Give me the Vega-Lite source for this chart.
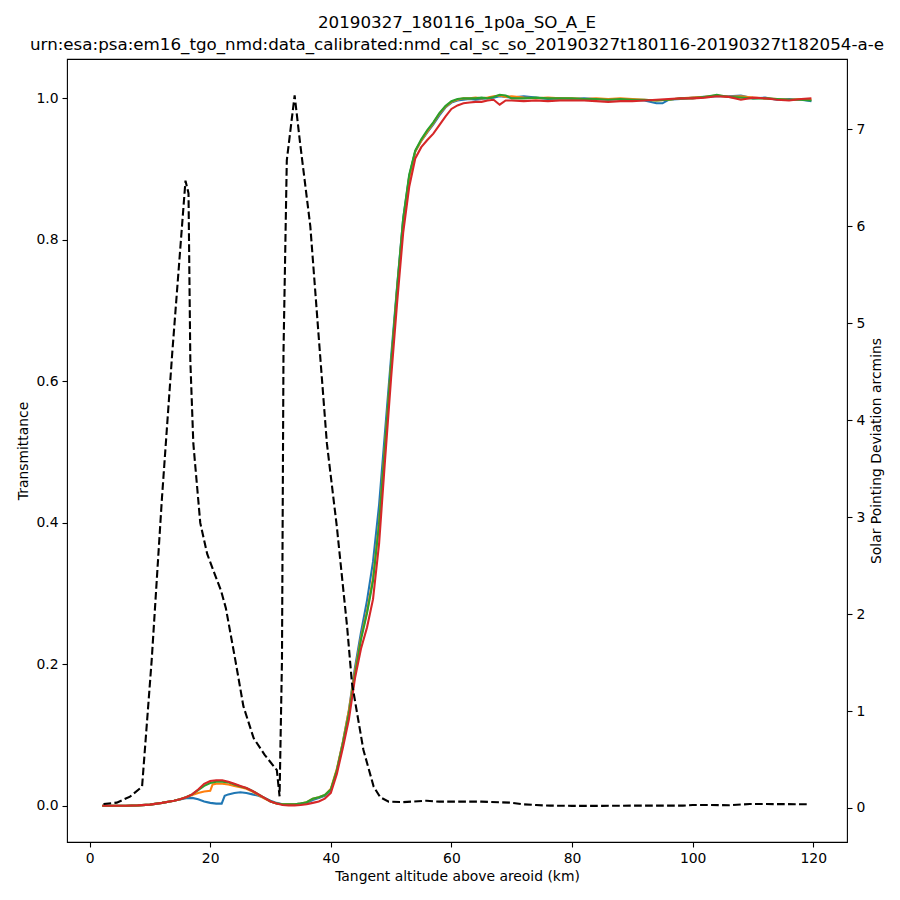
{
  "$schema": "https://vega.github.io/schema/vega-lite/v6.json",
  "autosize": {"type": "none"},
  "padding": {"left": 67, "top": 59, "right": 53, "bottom": 58},
  "width": 780,
  "height": 783,
  "title": {
    "text": ["20190327_180116_1p0a_SO_A_E", "urn:esa:psa:em16_tgo_nmd:data_calibrated:nmd_cal_sc_so_20190327t180116-20190327t182054-a-e"],
    "anchor": "middle",
    "fontSize": 16.7,
    "fontWeight": "normal",
    "lineHeight": 22,
    "offset": 5,
    "color": "black"
  },
  "datasets": {
    "trans": [
      {"alt": 2.1, "bin": 0, "T": 0}, {"alt": 4, "bin": 0, "T": 0}, {"alt": 6, "bin": 0, "T": 0}, {"alt": 8, "bin": 0, "T": 0.0005},
      {"alt": 10, "bin": 0, "T": 0.0015}, {"alt": 12, "bin": 0, "T": 0.004}, {"alt": 14, "bin": 0, "T": 0.007}, {"alt": 15, "bin": 0, "T": 0.009},
      {"alt": 16, "bin": 0, "T": 0.0105}, {"alt": 17, "bin": 0, "T": 0.011}, {"alt": 18, "bin": 0, "T": 0.009}, {"alt": 19, "bin": 0, "T": 0.006},
      {"alt": 20, "bin": 0, "T": 0.004}, {"alt": 21, "bin": 0, "T": 0.003}, {"alt": 21.9, "bin": 0, "T": 0.003}, {"alt": 22.4, "bin": 0, "T": 0.014},
      {"alt": 23, "bin": 0, "T": 0.016}, {"alt": 24, "bin": 0, "T": 0.018}, {"alt": 25, "bin": 0, "T": 0.019}, {"alt": 26, "bin": 0, "T": 0.018},
      {"alt": 27, "bin": 0, "T": 0.016}, {"alt": 28, "bin": 0, "T": 0.014}, {"alt": 29, "bin": 0, "T": 0.011}, {"alt": 30, "bin": 0, "T": 0.007},
      {"alt": 31, "bin": 0, "T": 0.004}, {"alt": 32, "bin": 0, "T": 0.002}, {"alt": 33, "bin": 0, "T": 0.002}, {"alt": 34, "bin": 0, "T": 0.002},
      {"alt": 35, "bin": 0, "T": 0.003}, {"alt": 36, "bin": 0, "T": 0.004}, {"alt": 37, "bin": 0, "T": 0.008}, {"alt": 38, "bin": 0, "T": 0.011},
      {"alt": 39, "bin": 0, "T": 0.014}, {"alt": 40, "bin": 0, "T": 0.022}, {"alt": 41, "bin": 0, "T": 0.05}, {"alt": 42, "bin": 0, "T": 0.09},
      {"alt": 43, "bin": 0, "T": 0.135}, {"alt": 44, "bin": 0, "T": 0.195}, {"alt": 45, "bin": 0, "T": 0.245}, {"alt": 46, "bin": 0, "T": 0.29},
      {"alt": 47, "bin": 0, "T": 0.345}, {"alt": 48, "bin": 0, "T": 0.425}, {"alt": 49, "bin": 0, "T": 0.53}, {"alt": 50, "bin": 0, "T": 0.635},
      {"alt": 51, "bin": 0, "T": 0.735}, {"alt": 52, "bin": 0, "T": 0.83}, {"alt": 53, "bin": 0, "T": 0.89}, {"alt": 54, "bin": 0, "T": 0.925},
      {"alt": 55, "bin": 0, "T": 0.94}, {"alt": 56, "bin": 0, "T": 0.952}, {"alt": 57, "bin": 0, "T": 0.963}, {"alt": 58, "bin": 0, "T": 0.976},
      {"alt": 59, "bin": 0, "T": 0.987}, {"alt": 60, "bin": 0, "T": 0.994}, {"alt": 61, "bin": 0, "T": 0.997}, {"alt": 62, "bin": 0, "T": 0.998},
      {"alt": 63, "bin": 0, "T": 0.999}, {"alt": 64, "bin": 0, "T": 0.998}, {"alt": 65, "bin": 0, "T": 0.999}, {"alt": 66, "bin": 0, "T": 1.0},
      {"alt": 67, "bin": 0, "T": 1.001}, {"alt": 68, "bin": 0, "T": 1.003}, {"alt": 69, "bin": 0, "T": 1.002}, {"alt": 70, "bin": 0, "T": 1.001},
      {"alt": 72, "bin": 0, "T": 1.003}, {"alt": 74, "bin": 0, "T": 1.001}, {"alt": 76, "bin": 0, "T": 0.999}, {"alt": 78, "bin": 0, "T": 1.0},
      {"alt": 80, "bin": 0, "T": 0.999}, {"alt": 82, "bin": 0, "T": 1.0}, {"alt": 84, "bin": 0, "T": 0.999}, {"alt": 86, "bin": 0, "T": 0.998},
      {"alt": 88, "bin": 0, "T": 0.999}, {"alt": 90, "bin": 0, "T": 0.998}, {"alt": 92, "bin": 0, "T": 0.997}, {"alt": 94, "bin": 0, "T": 0.993},
      {"alt": 95, "bin": 0, "T": 0.993}, {"alt": 96, "bin": 0, "T": 0.998}, {"alt": 98, "bin": 0, "T": 0.999}, {"alt": 100, "bin": 0, "T": 1.001},
      {"alt": 102, "bin": 0, "T": 1.002}, {"alt": 104, "bin": 0, "T": 1.003}, {"alt": 106, "bin": 0, "T": 1.003}, {"alt": 108, "bin": 0, "T": 1.004},
      {"alt": 110, "bin": 0, "T": 1.0}, {"alt": 112, "bin": 0, "T": 1.001}, {"alt": 114, "bin": 0, "T": 0.998}, {"alt": 116, "bin": 0, "T": 0.999},
      {"alt": 118, "bin": 0, "T": 0.998}, {"alt": 119.7, "bin": 0, "T": 0.996},

      {"alt": 2.1, "bin": 1, "T": 0}, {"alt": 4, "bin": 1, "T": 0}, {"alt": 6, "bin": 1, "T": 0}, {"alt": 8, "bin": 1, "T": 0.0005},
      {"alt": 10, "bin": 1, "T": 0.0015}, {"alt": 12, "bin": 1, "T": 0.004}, {"alt": 14, "bin": 1, "T": 0.007}, {"alt": 15, "bin": 1, "T": 0.009},
      {"alt": 16, "bin": 1, "T": 0.012}, {"alt": 17, "bin": 1, "T": 0.015}, {"alt": 18, "bin": 1, "T": 0.018}, {"alt": 19, "bin": 1, "T": 0.02},
      {"alt": 20, "bin": 1, "T": 0.021}, {"alt": 20.4, "bin": 1, "T": 0.03}, {"alt": 21, "bin": 1, "T": 0.031}, {"alt": 22, "bin": 1, "T": 0.031},
      {"alt": 23, "bin": 1, "T": 0.03}, {"alt": 24, "bin": 1, "T": 0.028}, {"alt": 25, "bin": 1, "T": 0.026}, {"alt": 26, "bin": 1, "T": 0.024},
      {"alt": 27, "bin": 1, "T": 0.02}, {"alt": 28, "bin": 1, "T": 0.015}, {"alt": 29, "bin": 1, "T": 0.01}, {"alt": 30, "bin": 1, "T": 0.006},
      {"alt": 31, "bin": 1, "T": 0.003}, {"alt": 32, "bin": 1, "T": 0.002}, {"alt": 33, "bin": 1, "T": 0.002}, {"alt": 34, "bin": 1, "T": 0.002},
      {"alt": 35, "bin": 1, "T": 0.003}, {"alt": 36, "bin": 1, "T": 0.005}, {"alt": 37, "bin": 1, "T": 0.01}, {"alt": 38, "bin": 1, "T": 0.012},
      {"alt": 39, "bin": 1, "T": 0.015}, {"alt": 40, "bin": 1, "T": 0.024}, {"alt": 41, "bin": 1, "T": 0.052}, {"alt": 42, "bin": 1, "T": 0.09},
      {"alt": 43, "bin": 1, "T": 0.135}, {"alt": 44, "bin": 1, "T": 0.19}, {"alt": 45, "bin": 1, "T": 0.238}, {"alt": 46, "bin": 1, "T": 0.275},
      {"alt": 47, "bin": 1, "T": 0.322}, {"alt": 48, "bin": 1, "T": 0.4}, {"alt": 49, "bin": 1, "T": 0.512}, {"alt": 50, "bin": 1, "T": 0.625},
      {"alt": 51, "bin": 1, "T": 0.73}, {"alt": 52, "bin": 1, "T": 0.825}, {"alt": 53, "bin": 1, "T": 0.888}, {"alt": 54, "bin": 1, "T": 0.925},
      {"alt": 55, "bin": 1, "T": 0.94}, {"alt": 56, "bin": 1, "T": 0.953}, {"alt": 57, "bin": 1, "T": 0.965}, {"alt": 58, "bin": 1, "T": 0.978},
      {"alt": 59, "bin": 1, "T": 0.988}, {"alt": 60, "bin": 1, "T": 0.995}, {"alt": 61, "bin": 1, "T": 0.998}, {"alt": 62, "bin": 1, "T": 1.0},
      {"alt": 63, "bin": 1, "T": 1.0}, {"alt": 64, "bin": 1, "T": 1.001}, {"alt": 65, "bin": 1, "T": 1.0}, {"alt": 66, "bin": 1, "T": 1.001},
      {"alt": 67, "bin": 1, "T": 1.003}, {"alt": 68, "bin": 1, "T": 1.004}, {"alt": 69, "bin": 1, "T": 1.002}, {"alt": 70, "bin": 1, "T": 1.003},
      {"alt": 72, "bin": 1, "T": 1.001}, {"alt": 74, "bin": 1, "T": 1.0}, {"alt": 76, "bin": 1, "T": 1.001}, {"alt": 78, "bin": 1, "T": 1.0},
      {"alt": 80, "bin": 1, "T": 1.0}, {"alt": 82, "bin": 1, "T": 0.999}, {"alt": 84, "bin": 1, "T": 1.0}, {"alt": 86, "bin": 1, "T": 0.999},
      {"alt": 88, "bin": 1, "T": 1.0}, {"alt": 90, "bin": 1, "T": 0.999}, {"alt": 92, "bin": 1, "T": 0.998}, {"alt": 94, "bin": 1, "T": 0.997},
      {"alt": 96, "bin": 1, "T": 0.998}, {"alt": 98, "bin": 1, "T": 1.0}, {"alt": 100, "bin": 1, "T": 1.001}, {"alt": 102, "bin": 1, "T": 1.002},
      {"alt": 104, "bin": 1, "T": 1.004}, {"alt": 106, "bin": 1, "T": 1.002}, {"alt": 108, "bin": 1, "T": 1.003}, {"alt": 110, "bin": 1, "T": 1.001},
      {"alt": 112, "bin": 1, "T": 1.0}, {"alt": 114, "bin": 1, "T": 0.999}, {"alt": 116, "bin": 1, "T": 0.998}, {"alt": 118, "bin": 1, "T": 0.999},
      {"alt": 119.7, "bin": 1, "T": 0.998},

      {"alt": 2.1, "bin": 2, "T": 0}, {"alt": 4, "bin": 2, "T": 0}, {"alt": 6, "bin": 2, "T": 0}, {"alt": 8, "bin": 2, "T": 0.0005},
      {"alt": 10, "bin": 2, "T": 0.0015}, {"alt": 12, "bin": 2, "T": 0.004}, {"alt": 14, "bin": 2, "T": 0.007}, {"alt": 15, "bin": 2, "T": 0.009},
      {"alt": 16, "bin": 2, "T": 0.012}, {"alt": 17, "bin": 2, "T": 0.016}, {"alt": 18, "bin": 2, "T": 0.022}, {"alt": 19, "bin": 2, "T": 0.028},
      {"alt": 20, "bin": 2, "T": 0.032}, {"alt": 21, "bin": 2, "T": 0.034}, {"alt": 22, "bin": 2, "T": 0.034}, {"alt": 23, "bin": 2, "T": 0.033},
      {"alt": 24, "bin": 2, "T": 0.03}, {"alt": 25, "bin": 2, "T": 0.027}, {"alt": 26, "bin": 2, "T": 0.025}, {"alt": 27, "bin": 2, "T": 0.021},
      {"alt": 28, "bin": 2, "T": 0.016}, {"alt": 29, "bin": 2, "T": 0.011}, {"alt": 30, "bin": 2, "T": 0.006}, {"alt": 31, "bin": 2, "T": 0.003},
      {"alt": 32, "bin": 2, "T": 0.002}, {"alt": 33, "bin": 2, "T": 0.002}, {"alt": 34, "bin": 2, "T": 0.002}, {"alt": 35, "bin": 2, "T": 0.003},
      {"alt": 36, "bin": 2, "T": 0.005}, {"alt": 37, "bin": 2, "T": 0.01}, {"alt": 38, "bin": 2, "T": 0.012}, {"alt": 39, "bin": 2, "T": 0.015},
      {"alt": 40, "bin": 2, "T": 0.023}, {"alt": 41, "bin": 2, "T": 0.05}, {"alt": 42, "bin": 2, "T": 0.088}, {"alt": 43, "bin": 2, "T": 0.13},
      {"alt": 44, "bin": 2, "T": 0.185}, {"alt": 45, "bin": 2, "T": 0.235}, {"alt": 46, "bin": 2, "T": 0.272}, {"alt": 47, "bin": 2, "T": 0.318},
      {"alt": 48, "bin": 2, "T": 0.398}, {"alt": 49, "bin": 2, "T": 0.51}, {"alt": 50, "bin": 2, "T": 0.625}, {"alt": 51, "bin": 2, "T": 0.733},
      {"alt": 52, "bin": 2, "T": 0.83}, {"alt": 53, "bin": 2, "T": 0.892}, {"alt": 54, "bin": 2, "T": 0.926}, {"alt": 55, "bin": 2, "T": 0.942},
      {"alt": 56, "bin": 2, "T": 0.955}, {"alt": 57, "bin": 2, "T": 0.966}, {"alt": 58, "bin": 2, "T": 0.979}, {"alt": 59, "bin": 2, "T": 0.989},
      {"alt": 60, "bin": 2, "T": 0.996}, {"alt": 61, "bin": 2, "T": 0.999}, {"alt": 62, "bin": 2, "T": 1.0}, {"alt": 63, "bin": 2, "T": 1.0},
      {"alt": 64, "bin": 2, "T": 1.0}, {"alt": 65, "bin": 2, "T": 1.001}, {"alt": 66, "bin": 2, "T": 1.0}, {"alt": 67, "bin": 2, "T": 1.002},
      {"alt": 68, "bin": 2, "T": 1.005}, {"alt": 69, "bin": 2, "T": 1.004}, {"alt": 70, "bin": 2, "T": 1.0}, {"alt": 72, "bin": 2, "T": 1.0},
      {"alt": 74, "bin": 2, "T": 1.001}, {"alt": 76, "bin": 2, "T": 1.0}, {"alt": 78, "bin": 2, "T": 1.0}, {"alt": 80, "bin": 2, "T": 1.0},
      {"alt": 82, "bin": 2, "T": 0.999}, {"alt": 84, "bin": 2, "T": 0.999}, {"alt": 86, "bin": 2, "T": 0.998}, {"alt": 88, "bin": 2, "T": 0.999},
      {"alt": 90, "bin": 2, "T": 0.998}, {"alt": 92, "bin": 2, "T": 0.998}, {"alt": 94, "bin": 2, "T": 0.997}, {"alt": 96, "bin": 2, "T": 0.998},
      {"alt": 98, "bin": 2, "T": 1.0}, {"alt": 100, "bin": 2, "T": 1.0}, {"alt": 102, "bin": 2, "T": 1.002}, {"alt": 104, "bin": 2, "T": 1.005},
      {"alt": 106, "bin": 2, "T": 1.002}, {"alt": 108, "bin": 2, "T": 1.001}, {"alt": 110, "bin": 2, "T": 1.0}, {"alt": 112, "bin": 2, "T": 1.0},
      {"alt": 114, "bin": 2, "T": 0.999}, {"alt": 116, "bin": 2, "T": 0.998}, {"alt": 118, "bin": 2, "T": 0.998}, {"alt": 119.7, "bin": 2, "T": 0.997},

      {"alt": 2.1, "bin": 3, "T": 0}, {"alt": 4, "bin": 3, "T": 0}, {"alt": 6, "bin": 3, "T": 0}, {"alt": 8, "bin": 3, "T": 0.0005},
      {"alt": 10, "bin": 3, "T": 0.0015}, {"alt": 12, "bin": 3, "T": 0.004}, {"alt": 14, "bin": 3, "T": 0.007}, {"alt": 15, "bin": 3, "T": 0.009},
      {"alt": 16, "bin": 3, "T": 0.012}, {"alt": 17, "bin": 3, "T": 0.016}, {"alt": 18, "bin": 3, "T": 0.023}, {"alt": 19, "bin": 3, "T": 0.031},
      {"alt": 20, "bin": 3, "T": 0.035}, {"alt": 21, "bin": 3, "T": 0.036}, {"alt": 22, "bin": 3, "T": 0.036}, {"alt": 23, "bin": 3, "T": 0.034},
      {"alt": 24, "bin": 3, "T": 0.031}, {"alt": 25, "bin": 3, "T": 0.028}, {"alt": 26, "bin": 3, "T": 0.025}, {"alt": 27, "bin": 3, "T": 0.021},
      {"alt": 28, "bin": 3, "T": 0.016}, {"alt": 29, "bin": 3, "T": 0.011}, {"alt": 30, "bin": 3, "T": 0.006}, {"alt": 31, "bin": 3, "T": 0.003},
      {"alt": 32, "bin": 3, "T": 0.001}, {"alt": 33, "bin": 3, "T": 0.0005}, {"alt": 34, "bin": 3, "T": 0.0005}, {"alt": 35, "bin": 3, "T": 0.001},
      {"alt": 36, "bin": 3, "T": 0.002}, {"alt": 37, "bin": 3, "T": 0.004}, {"alt": 38, "bin": 3, "T": 0.006}, {"alt": 39, "bin": 3, "T": 0.01},
      {"alt": 40, "bin": 3, "T": 0.018}, {"alt": 41, "bin": 3, "T": 0.045}, {"alt": 42, "bin": 3, "T": 0.082}, {"alt": 43, "bin": 3, "T": 0.122},
      {"alt": 44, "bin": 3, "T": 0.18}, {"alt": 45, "bin": 3, "T": 0.222}, {"alt": 46, "bin": 3, "T": 0.252}, {"alt": 47, "bin": 3, "T": 0.292},
      {"alt": 48, "bin": 3, "T": 0.37}, {"alt": 49, "bin": 3, "T": 0.49}, {"alt": 50, "bin": 3, "T": 0.605}, {"alt": 51, "bin": 3, "T": 0.712},
      {"alt": 52, "bin": 3, "T": 0.81}, {"alt": 53, "bin": 3, "T": 0.875}, {"alt": 54, "bin": 3, "T": 0.915}, {"alt": 55, "bin": 3, "T": 0.931},
      {"alt": 56, "bin": 3, "T": 0.941}, {"alt": 57, "bin": 3, "T": 0.95}, {"alt": 58, "bin": 3, "T": 0.962}, {"alt": 59, "bin": 3, "T": 0.974},
      {"alt": 60, "bin": 3, "T": 0.985}, {"alt": 61, "bin": 3, "T": 0.99}, {"alt": 62, "bin": 3, "T": 0.993}, {"alt": 63, "bin": 3, "T": 0.994},
      {"alt": 64, "bin": 3, "T": 0.995}, {"alt": 65, "bin": 3, "T": 0.995}, {"alt": 66, "bin": 3, "T": 0.997}, {"alt": 67, "bin": 3, "T": 0.998},
      {"alt": 68, "bin": 3, "T": 0.991}, {"alt": 69, "bin": 3, "T": 0.997}, {"alt": 70, "bin": 3, "T": 0.997}, {"alt": 72, "bin": 3, "T": 0.996},
      {"alt": 74, "bin": 3, "T": 0.997}, {"alt": 76, "bin": 3, "T": 0.996}, {"alt": 78, "bin": 3, "T": 0.997}, {"alt": 80, "bin": 3, "T": 0.997},
      {"alt": 82, "bin": 3, "T": 0.997}, {"alt": 84, "bin": 3, "T": 0.996}, {"alt": 86, "bin": 3, "T": 0.995}, {"alt": 88, "bin": 3, "T": 0.996},
      {"alt": 90, "bin": 3, "T": 0.996}, {"alt": 92, "bin": 3, "T": 0.997}, {"alt": 94, "bin": 3, "T": 0.998}, {"alt": 96, "bin": 3, "T": 0.999},
      {"alt": 98, "bin": 3, "T": 1.0}, {"alt": 100, "bin": 3, "T": 1.0}, {"alt": 102, "bin": 3, "T": 1.001}, {"alt": 104, "bin": 3, "T": 1.003},
      {"alt": 106, "bin": 3, "T": 1.002}, {"alt": 108, "bin": 3, "T": 0.998}, {"alt": 110, "bin": 3, "T": 1.001}, {"alt": 112, "bin": 3, "T": 1.0},
      {"alt": 114, "bin": 3, "T": 0.998}, {"alt": 116, "bin": 3, "T": 0.997}, {"alt": 118, "bin": 3, "T": 0.999}, {"alt": 119.7, "bin": 3, "T": 1.0}
    ],
    "dev": [
      {"alt": 2.3, "dev": 0.041}, {"alt": 4.5, "dev": 0.055}, {"alt": 6.7, "dev": 0.117}, {"alt": 8.7, "dev": 0.22},
      {"alt": 10.3, "dev": 1.53}, {"alt": 12, "dev": 3.2}, {"alt": 13.7, "dev": 4.69}, {"alt": 15.9, "dev": 6.47},
      {"alt": 16.4, "dev": 6.34}, {"alt": 16.7, "dev": 4.62}, {"alt": 17.2, "dev": 3.76}, {"alt": 18.35, "dev": 2.94},
      {"alt": 19.5, "dev": 2.62}, {"alt": 20.7, "dev": 2.42}, {"alt": 21.8, "dev": 2.24}, {"alt": 22.6, "dev": 2.06},
      {"alt": 24.15, "dev": 1.53}, {"alt": 25.5, "dev": 1.05},
      {"alt": 27.2, "dev": 0.72}, {"alt": 29, "dev": 0.55}, {"alt": 31.05, "dev": 0.39}, {"alt": 31.5, "dev": 0.12},
      {"alt": 31.9, "dev": 1.53}, {"alt": 32.15, "dev": 4.69}, {"alt": 32.7, "dev": 6.68}, {"alt": 34.0, "dev": 7.35},
      {"alt": 34.9, "dev": 6.86}, {"alt": 36.6, "dev": 6.0}, {"alt": 38.2, "dev": 4.69}, {"alt": 39.35, "dev": 3.76},
      {"alt": 41.0, "dev": 2.9}, {"alt": 42.7, "dev": 1.87}, {"alt": 43.5, "dev": 1.29}, {"alt": 45.4, "dev": 0.6},
      {"alt": 47.1, "dev": 0.22}, {"alt": 48.2, "dev": 0.11}, {"alt": 49.6, "dev": 0.065}, {"alt": 52, "dev": 0.06},
      {"alt": 55.9, "dev": 0.075}, {"alt": 58, "dev": 0.065}, {"alt": 61.4, "dev": 0.065}, {"alt": 65, "dev": 0.065},
      {"alt": 69.7, "dev": 0.055}, {"alt": 71.9, "dev": 0.038}, {"alt": 74, "dev": 0.03}, {"alt": 76.4, "dev": 0.024},
      {"alt": 80, "dev": 0.022}, {"alt": 85, "dev": 0.022}, {"alt": 90, "dev": 0.024}, {"alt": 95, "dev": 0.024},
      {"alt": 98.4, "dev": 0.024}, {"alt": 100, "dev": 0.03}, {"alt": 102.9, "dev": 0.031}, {"alt": 106, "dev": 0.028},
      {"alt": 109.5, "dev": 0.041}, {"alt": 114, "dev": 0.04}, {"alt": 119.1, "dev": 0.038}
    ]
  },
  "layer": [
    {
      "data": {"name": "trans"},
      "mark": {"type": "line", "strokeWidth": 2.1},
      "encoding": {
        "x": {
          "field": "alt", "type": "quantitative",
          "scale": {"domain": [-3.75, 125.6], "nice": false, "zero": false},
          "axis": {"title": "Tangent altitude above areoid (km)", "values": [0, 20, 40, 60, 80, 100, 120]}
        },
        "y": {
          "field": "T", "type": "quantitative",
          "scale": {"domain": [-0.0513, 1.0556], "nice": false, "zero": false},
          "axis": {"title": "Transmittance", "orient": "left", "values": [0, 0.2, 0.4, 0.6, 0.8, 1.0], "format": ".1f"}
        },
        "color": {
          "field": "bin", "type": "nominal",
          "scale": {"domain": [0, 1, 2, 3], "range": ["#1f77b4", "#ff7f0e", "#2ca02c", "#d62728"]},
          "legend": null
        }
      }
    },
    {
      "data": {"name": "dev"},
      "mark": {"type": "line", "color": "black", "strokeWidth": 2.1, "strokeDash": [7.7, 3.3]},
      "encoding": {
        "x": {"field": "alt", "type": "quantitative"},
        "y": {
          "field": "dev", "type": "quantitative",
          "scale": {"domain": [-0.351, 7.725], "nice": false, "zero": false},
          "axis": {"title": "Solar Pointing Deviation arcmins", "orient": "right", "titleAngle": 270, "titleBaseline": "top", "values": [0, 1, 2, 3, 4, 5, 6, 7]}
        }
      }
    }
  ],
  "resolve": {"scale": {"y": "independent"}},
  "config": {
    "font": "DejaVu Sans",
    "view": {"stroke": "black", "strokeWidth": 1.1},
    "axis": {
      "domain": false,
      "grid": false,
      "ticks": true,
      "tickColor": "black",
      "tickSize": 5,
      "tickWidth": 1.1,
      "labelColor": "black",
      "labelFontSize": 13.9,
      "labelPadding": 4,
      "titleColor": "black",
      "titleFontSize": 13.9,
      "titleFontWeight": "normal",
      "titlePadding": 5
    }
  }
}
